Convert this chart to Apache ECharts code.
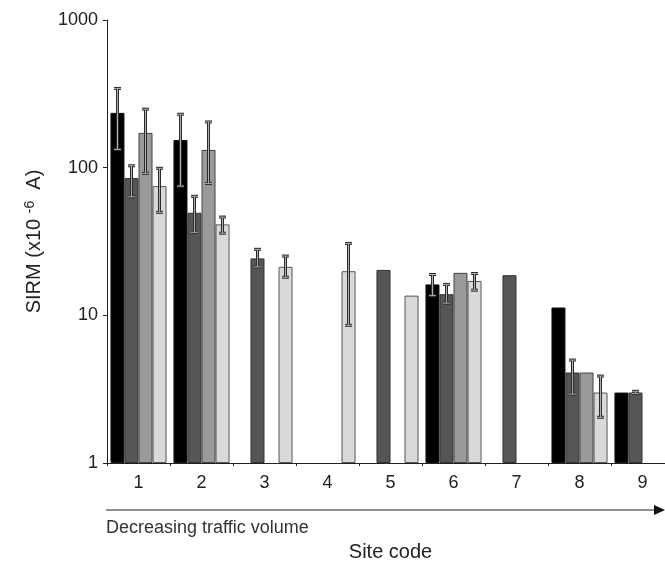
<!DOCTYPE html>
<html>
<head>
<meta charset="utf-8">
<script src="https://cdn.jsdelivr.net/npm/echarts@6/dist/echarts.min.js"></script>
<style>
  html, body { margin: 0; padding: 0; background: #fff; }
  #main { width: 665px; height: 563px; }
</style>
</head>
<body>
<div id="main"></div>
<script>
// site codes along the x axis
const sites = ['1', '2', '3', '4', '5', '6', '7', '8', '9'];
const yTicks = [1, 10, 100, 1000];

// mean SIRM per site, four sample groups ('-' = no bar)
const black = [235, 154, '-', '-', '-', 16.2, '-', 11.3, 3.0];
const darkGrey = [85, 49.5, 24.3, '-', 20.3, 13.9, 18.7, 4.1, 3.0];
const midGrey = [172, 132, '-', '-', '-', 19.4, '-', 4.1, '-'];
const lightGrey = [75, 41.3, 21.3, 19.9, 13.6, 17.1, '-', 3.0, '-'];

// error bar ends
const blackHi = [344, 230, '-', '-', '-', 18.9, '-', '-', '-'];
const blackLo = [133, 75, '-', '-', '-', 13.6, '-', '-', '-'];
const darkHi = [103, 64, 28, '-', '-', 16.2, '-', 4.98, 3.06];
const darkLo = [63.5, 36.5, 21.3, '-', '-', 12.1, '-', 2.93, 2.96];
const midHi = [249, 204, '-', '-', '-', '-', '-', '-', '-'];
const midLo = [91.5, 78, '-', '-', '-', '-', '-', '-', '-'];
const lightHi = [99, 46.3, 25.2, 30.7, '-', 19.2, '-', 3.88, '-'];
const lightLo = [49.8, 36, 18.1, 8.56, '-', 14.8, '-', 2.04, '-'];

const FONT = 'Liberation Sans, Arial, sans-serif';
const CAT_GAP = 0.11;
const N_SER = 4;

const barSeries = [
  { data: black, color: '#000000', border: '#111' },
  { data: darkGrey, color: '#555555', border: '#333' },
  { data: midGrey, color: '#9a9a9a', border: '#444' },
  { data: lightGrey, color: '#d9d9d9', border: '#555' }
];
const errSets = [[blackLo, blackHi], [darkLo, darkHi], [midLo, midHi], [lightLo, lightHi]];

function errData(lo, hi) {
  const out = [];
  lo.forEach((v, i) => {
    if (v !== '-' && hi[i] !== '-') out.push([i, v, hi[i]]);
  });
  return out;
}

function makeErrRender(si) {
  return function (params, api) {
    const band = params.coordSys.width / sites.length;
    const bw = band * (1 - CAT_GAP) / N_SER;
    const idx = api.value(0);
    const pLo = api.coord([idx, api.value(1)]);
    const pHi = api.coord([idx, api.value(2)]);
    const x = pLo[0] + (si - 1.5) * bw;
    const cap = 3.5;
    const shapes = [
      { x1: x, y1: pLo[1], x2: x, y2: pHi[1] },
      { x1: x - cap, y1: pHi[1], x2: x + cap, y2: pHi[1] },
      { x1: x - cap, y1: pLo[1], x2: x + cap, y2: pLo[1] }
    ];
    const children = [];
    shapes.forEach(s => children.push({ type: 'line', shape: s, style: { stroke: '#2a2a2a', lineWidth: 3 } }));
    shapes.forEach(s => children.push({ type: 'line', shape: s, style: { stroke: '#b0b0b0', lineWidth: 1 } }));
    return { type: 'group', children: children };
  };
}

const series = [];
barSeries.forEach((b, i) => {
  series.push({
    type: 'bar',
    data: b.data,
    barGap: '0%',
    barCategoryGap: (CAT_GAP * 100) + '%',
    itemStyle: { color: b.color, borderColor: b.border, borderWidth: 1 },
    silent: true
  });
});
errSets.forEach((e, i) => {
  series.push({
    type: 'custom',
    data: errData(e[0], e[1]),
    renderItem: makeErrRender(i),
    z: 5,
    silent: true
  });
});

const myChart = echarts.init(document.getElementById('main'));
myChart.setOption({
  animation: false,
  textStyle: { fontFamily: FONT },
  grid: { left: 107, top: 20, width: 567, height: 443, outerBoundsMode: 'none', containLabel: false },
  xAxis: {
    type: 'category',
    data: sites,
    name: 'Site code',
    nameLocation: 'middle',
    nameGap: 79,
    nameTextStyle: { fontSize: 20, color: '#222', fontFamily: FONT },
    axisLine: { lineStyle: { color: '#222', width: 1 } },
    axisTick: { show: true, length: 3, lineStyle: { color: '#222' } },
    axisLabel: { fontSize: 18, color: '#222', margin: 11 }
  },
  yAxis: {
    type: 'log',
    min: yTicks[0],
    max: yTicks[yTicks.length - 1],
    logBase: 10,
    name: '{a|SIRM (x10 }{s|-6}{a|  A)}',
    nameLocation: 'middle',
    nameRotate: 90,
    nameGap: 62,
    nameTextStyle: {
      rich: {
        a: { fontSize: 20, color: '#222', fontFamily: FONT },
        s: { fontSize: 14, color: '#222', fontFamily: FONT, verticalAlign: 'top', padding: [0, 0, 8, 0] }
      }
    },
    splitLine: { show: false },
    minorTick: { show: false },
    axisLine: { show: true, lineStyle: { color: '#222', width: 1 } },
    axisTick: { show: true, length: 4, lineStyle: { color: '#222' } },
    axisLabel: { fontSize: 18, color: '#222', margin: 9, formatter: v => String(Math.round(v)) }
  },
  graphic: [
    {
      type: 'line',
      shape: { x1: 106, y1: 510, x2: 657, y2: 510 },
      style: { stroke: '#222', lineWidth: 1.2 }
    },
    {
      type: 'polygon',
      shape: { points: [[654, 505], [665, 510], [654, 515]] },
      style: { fill: '#111' }
    },
    {
      type: 'text',
      left: 106,
      top: 519,
      style: { text: 'Decreasing traffic volume', fontSize: 18, fill: '#333', fontFamily: FONT }
    }
  ],
  series: series
});
</script>
</body>
</html>
